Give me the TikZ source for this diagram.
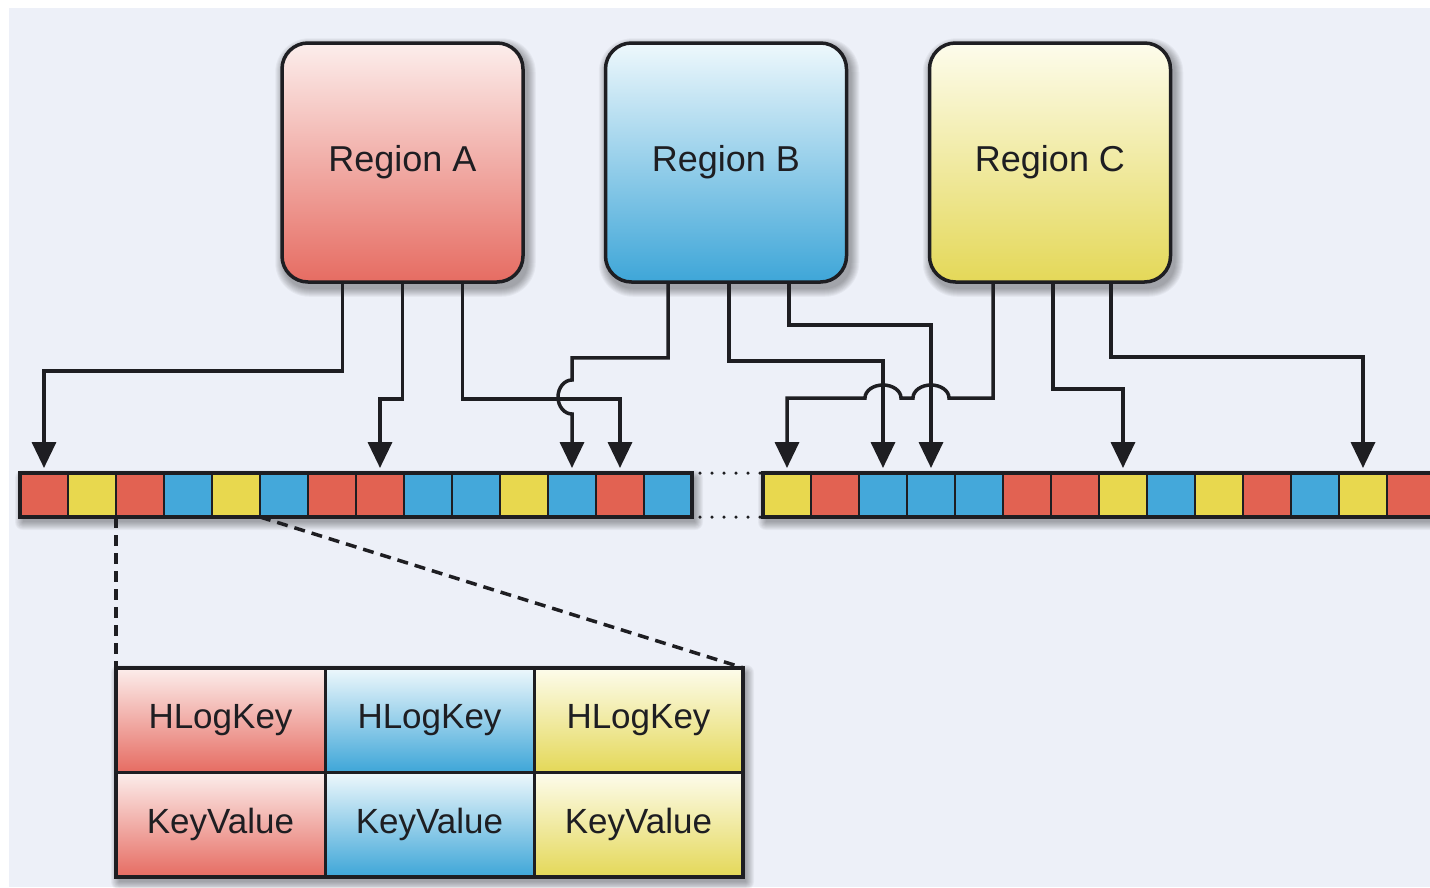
\documentclass[tikz,border=0pt]{standalone}
\usepackage{fontspec}
\setmainfont{Liberation Sans}
\usetikzlibrary{arrows.meta,calc}
\pgfdeclarelayer{back}
\pgfdeclarelayer{shade}
\pgfsetlayers{back,shade,main}
\definecolor{bgc}{RGB}{237,240,248}
\definecolor{cellR}{RGB}{226,98,82}
\definecolor{cellY}{RGB}{232,216,78}
\definecolor{cellB}{RGB}{68,168,218}
\definecolor{topR}{RGB}{252,238,236}
\definecolor{botR}{RGB}{230,108,98}
\definecolor{topB}{RGB}{238,248,252}
\definecolor{botB}{RGB}{62,166,216}
\definecolor{topY}{RGB}{253,252,236}
\definecolor{botY}{RGB}{228,216,88}
\definecolor{ink}{RGB}{30,30,34}
% soft drop shadow: stacked translucent rectangles, #1 = north west, #2 = south east, #3 = corner radius
\newcommand\softshade[3]{%
  \foreach \s [evaluate=\s as \r using #3+\s] in {0,...,8}
    \fill[black,opacity=0.04,rounded corners=\r pt]
      ($(#1)+(3-\s,5-\s)$) rectangle ($(#2)+(3+\s,5+\s)$);}
\begin{document}
\begin{tikzpicture}[x=1pt,y=-1pt,
  region/.style={draw=ink,line width=3.5pt,rounded corners=26pt,minimum width=241pt,minimum height=239pt,
    inner sep=0pt,font=\fontsize{36}{40}\selectfont,text=ink},
  cell/.style={draw=ink,line width=2.8pt,minimum width=48pt,minimum height=44pt,inner sep=0pt,outer sep=0pt},
  tcell/.style={draw=ink,line width=3pt,minimum width=209pt,minimum height=104.5pt,inner sep=0pt,outer sep=0pt,
    font=\fontsize{35}{40}\selectfont,text=ink},
  arr/.style={draw=ink,line width=3.5pt,-{Triangle[width=24pt,length=26pt]},shorten >=5pt},
  lead/.style={draw=ink,line width=3.5pt,dash pattern=on 11pt off 7pt},
  gap/.style={draw=ink,line width=3.5pt,line cap=round,dash pattern=on 0pt off 12pt}]

\useasboundingbox (0,0) rectangle (1430,887);
\begin{pgfonlayer}{back}
  \fill[white] (0,0) rectangle (1430,887);
  \fill[bgc] (9,8) rectangle (1430,887);
\end{pgfonlayer}

% regions
\node[region,top color=topR,bottom color=botR] (ra) at (402.5,162.5) {Region A};
\node[region,top color=topB,bottom color=botB] (rb) at (726,162.5) {Region B};
\node[region,top color=topY,bottom color=botY] (rc) at (1050,162.5) {Region C};
\begin{pgfonlayer}{shade}
  \softshade{ra.north west}{ra.south east}{26}
  \softshade{rb.north west}{rb.south east}{26}
  \softshade{rc.north west}{rc.south east}{26}
\end{pgfonlayer}

% log cells, first segment
\foreach \c [count=\i from 0] in {R,Y,R,B,Y,B,R,R,B,B,Y,B,R,B}
  \node[cell,fill=cell\c] (l\i) at (44+48*\i,495) {};
% log cells, second segment
\foreach \c [count=\i from 0] in {Y,R,B,B,B,R,R,Y,B,Y,R,B,Y,R}
  \node[cell,fill=cell\c] (r\i) at (787+48*\i,495) {};
\draw[draw=ink,line width=3.5pt] (l0.north west) rectangle (l13.south east);
\draw[draw=ink,line width=3.5pt] (r0.north west) rectangle (r13.south east);
\begin{pgfonlayer}{shade}
  \softshade{l0.north west}{l13.south east}{0}
  \softshade{r0.north west}{r13.south east}{0}
\end{pgfonlayer}

% elision between the segments
\draw[gap] ([xshift=8pt]l13.north east) -- (r0.north west);
\draw[gap] ([xshift=8pt]l13.south east) -- (r0.south west);

% entry layout
\node[tcell,top color=topR,bottom color=botR] (t11) at (220.5,720) {HLogKey};
\node[tcell,top color=topB,bottom color=botB] (t12) at (429.5,720) {HLogKey};
\node[tcell,top color=topY,bottom color=botY] (t13) at (638.5,720) {HLogKey};
\node[tcell,top color=topR,bottom color=botR] (t21) at (220.5,824.5) {KeyValue};
\node[tcell,top color=topB,bottom color=botB] (t22) at (429.5,824.5) {KeyValue};
\node[tcell,top color=topY,bottom color=botY] (t23) at (638.5,824.5) {KeyValue};
\draw[draw=ink,line width=3.5pt] (t11.north west) rectangle (t23.south east);
\begin{pgfonlayer}{shade}
  \softshade{t11.north west}{t23.south east}{0}
\end{pgfonlayer}

\draw[lead] (l1.south east) -- (t11.north west);
\draw[lead] (l4.south east) -- (t13.north east);

% writers from region A
\draw[arr] ([xshift=-60pt]ra.south) -- ++(0,87) -| (l0.north);
\draw[arr] (ra.south) -- ++(0,115) -| (l7.north);
\draw[arr] ([xshift=60pt]ra.south) -- ++(0,115) -| (l12.north);

% writers from region B
\coordinate (hb) at (l11.north |- 0,380);
\draw[arr] ([xshift=-58pt]rb.south) -- ++(0,74) -| (hb)
  arc[start angle=90,end angle=270,x radius=14pt,y radius=17pt] -- (l11.north);
\draw[arr] ([xshift=3pt]rb.south) -- ++(0,77) -| (r2.north);
\draw[arr] ([xshift=63pt]rb.south) -- ++(0,41) -| (r3.north);

% writers from region C
\coordinate (h1) at (r3.north |- 0,398);
\coordinate (h2) at (r2.north |- 0,398);
\draw[arr] ([xshift=-57pt]rc.south) |- ([xshift=18pt]h1)
  arc[start angle=0,end angle=180,x radius=18pt,y radius=13pt] -- ([xshift=18pt]h2)
  arc[start angle=0,end angle=180,x radius=18pt,y radius=13pt] -| (r0.north);
\draw[arr] ([xshift=3pt]rc.south) -- ++(0,105) -| (r7.north);
\draw[arr] ([xshift=61pt]rc.south) -- ++(0,73) -| (r12.north);
\end{tikzpicture}
\end{document}
